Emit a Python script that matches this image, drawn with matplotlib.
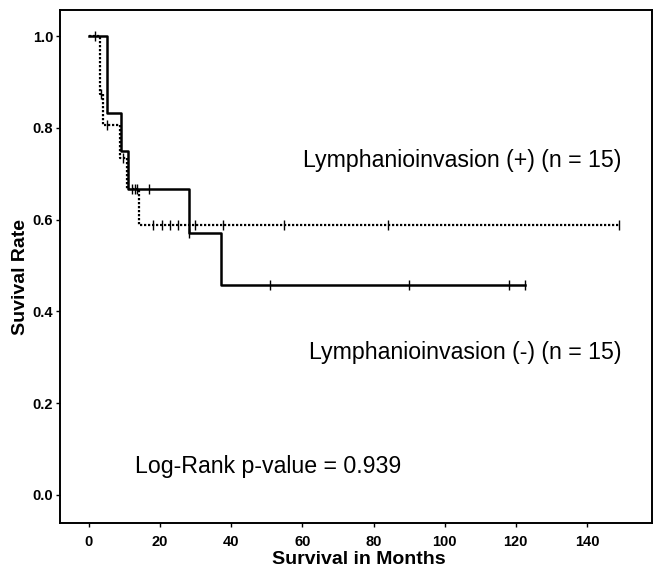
import matplotlib
matplotlib.use("Agg")
import matplotlib.pyplot as plt
import numpy as np

# Solid curve
solid_t = [0, 5.0, 9.0, 11.0, 28.0, 37.0, 122.5]
solid_s = [1.0, 0.833, 0.75, 0.667, 0.571, 0.457, 0.457]
solid_cens = [1.7, 16.9, 28.2, 51.0, 90.0, 118.0, 122.5]

# Dotted curve
dot_t = [0, 3.1, 4.0, 8.7, 10.6, 14.0, 149.0]
dot_s = [1.0, 0.875, 0.806, 0.734, 0.667, 0.588, 0.588]
dot_cens = [3.4, 5.0, 9.6, 12.1, 12.9, 13.6, 18.0, 20.4, 22.8, 25.0, 29.8, 37.7, 54.8, 84.0, 149.0]

xticks = [0, 20, 40, 60, 80, 100, 120, 140]
yticks = [0.0, 0.2, 0.4, 0.6, 0.8, 1.0]

def surv_at(ts, ss, x):
    idx = np.searchsorted(ts, x, side="right") - 1
    return ss[idx]

fig = plt.figure(figsize=(6.58, 5.73), dpi=100)
ax = fig.add_axes([0.0912, 0.0873, 0.8997, 0.8952])

ax.step(dot_t, dot_s, where="post", color="black", lw=1.6, linestyle=(0, (1, 0.8)))
ax.plot(dot_cens, [surv_at(dot_t, dot_s, c) for c in dot_cens], linestyle="none",
        marker="|", color="black", markersize=7, mew=1.0)

ax.step(solid_t, solid_s, where="post", color="black", lw=1.8)
ax.plot(solid_cens, [surv_at(solid_t, solid_s, c) for c in solid_cens], linestyle="none",
        marker="|", color="black", markersize=7, mew=1.0)

ax.set_xlim(-8.15, 158.3)
ax.set_ylim(-0.061, 1.057)
ax.set_xticks(xticks)
ax.set_xticklabels([str(t) for t in xticks])
ax.set_yticks(yticks)
ax.set_yticklabels([f"{t:.1f}" for t in yticks])

for lab in ax.get_xticklabels() + ax.get_yticklabels():
    lab.set_fontfamily(["Liberation Sans", "DejaVu Sans"])
    lab.set_fontweight("bold")
    lab.set_fontsize(10.5)
ax.tick_params(axis="x", direction="out", length=3, width=1, pad=6)
ax.tick_params(axis="y", direction="out", length=3, width=1, pad=2)

for sp in ax.spines.values():
    sp.set_linewidth(1.4)

ax.set_xlabel("Survival in Months", fontfamily="Liberation Sans", fontweight="bold", fontsize=14)
ax.set_ylabel("Suvival Rate", fontfamily="Liberation Sans", fontweight="bold", fontsize=14)
ax.xaxis.set_label_coords(0.505, -0.054)
ax.yaxis.set_label_coords(-0.052, 0.48)

ax.text(149.8, 0.73, "Lymphanioinvasion (+) (n = 15)", ha="right", va="center",
        fontfamily="Liberation Sans", fontsize=16.7)
ax.text(149.8, 0.31, "Lymphanioinvasion (-) (n = 15)", ha="right", va="center",
        fontfamily="Liberation Sans", fontsize=16.7)
ax.text(12.8, 0.062, "Log-Rank p-value = 0.939", ha="left", va="center",
        fontfamily="Liberation Sans", fontsize=16.7)

fig.savefig("out.png", dpi=100)
